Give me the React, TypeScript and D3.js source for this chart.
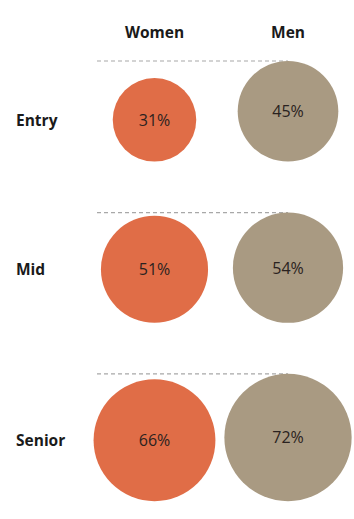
import React from 'react';
import * as d3 from 'd3';

const levels = ['Entry', 'Mid', 'Senior'];
const groups = ['Women', 'Men'];
const womenPct = [31, 51, 66];
const menPct = [45, 54, 72];

const colors: Record<string, string> = { Women: '#e06d47', Men: '#a99a82' };

const W = 354;
const H = 519;

const App: React.FC = () => {
    const x = d3.scalePoint<string>().domain(groups).range([154.5, 288]);
    const r = d3.scaleSqrt().domain([0, 100]).range([0, 75]);

    // stack rows: each row is as tall as its largest circle, circles sit on a common bottom
    const rowGap = 51;
    let top = 61;
    const rows = levels.map((level, i) => {
        const vals = { Women: womenPct[i], Men: menPct[i] } as Record<string, number>;
        const maxR = r(d3.max([womenPct[i], menPct[i]]) ?? 0);
        const row = { level, vals, top, bottom: top + 2 * maxR };
        top = row.bottom + rowGap;
        return row;
    });

    const font = '"Open Sans", sans-serif';

    return (
        <svg width={W} height={H} style={{ position: 'absolute', left: 0, top: 0, background: '#fff' }}>
            {groups.map(g => (
                <text key={g} x={x(g)} y={32} textAnchor="middle" dominantBaseline="central"
                    fontFamily={font} fontWeight={700} fontSize={15.5} fill="#1a1a1a">
                    {g}
                </text>
            ))}
            {rows.map(row => {
                const cyW = row.bottom - r(row.vals.Women);
                return (
                    <g key={row.level}>
                        <line x1={97} x2={x('Men')} y1={row.top} y2={row.top}
                            stroke="#a8a8a8" strokeWidth={1.2} strokeDasharray="4 3" />
                        <text x={16} y={cyW} dominantBaseline="central" fontFamily={font}
                            fontWeight={700} fontSize={15.5} fill="#1a1a1a">
                            {row.level}
                        </text>
                        {groups.map(g => {
                            const rad = r(row.vals[g]);
                            const cy = row.bottom - rad;
                            return (
                                <g key={g}>
                                    <circle cx={x(g)} cy={cy} r={rad} fill={colors[g]} />
                                    <text x={x(g)} y={cy} textAnchor="middle" dominantBaseline="central"
                                        fontFamily={font} fontSize={16} fill="#2a2220">
                                        {row.vals[g]}%
                                    </text>
                                </g>
                            );
                        })}
                    </g>
                );
            })}
        </svg>
    );
};

export default App;
